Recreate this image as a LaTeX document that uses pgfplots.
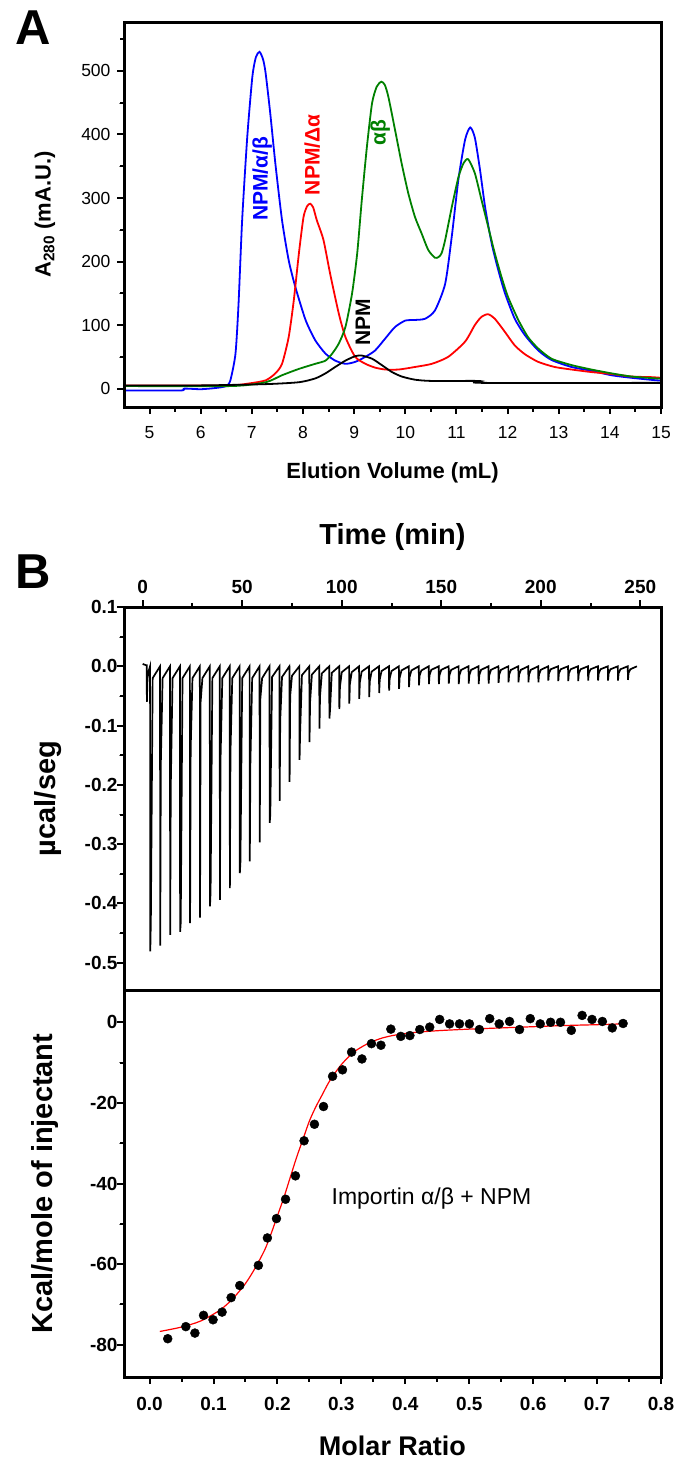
\documentclass[border=0pt]{standalone}
\usepackage{fontspec}
\setmainfont{Liberation Sans}
\usepackage{pgfplots}
\pgfplotsset{compat=1.18}
\definecolor{sgreen}{RGB}{0,128,0}

\pgfplotsset{
  panel/.style={
    scale only axis, width=537pt,
    tick align=outside, major tick length=7pt, minor tick length=4.5pt,
    /pgf/number format/assume math mode=true,
    minor x tick num=1, minor y tick num=1,
    after end axis/.code={\draw[line width=3pt, line join=miter] (rel axis cs:0,0) rectangle (rel axis cs:1,1);},
  },
}
\tikzset{tk/.style={line width=2pt, line cap=butt}}

\begin{document}
\begin{tikzpicture}

% ---------- A: gel filtration ----------
\begin{axis}[panel,
    at={(124pt,-407pt)}, anchor=south west, height=385pt,
    xmin=4.5, xmax=15, ymin=-29, ymax=577,
    xtick={5,6,...,15}, ytick={0,100,...,500},
    xtick pos=lower, ytick pos=left,
    tick label style={font=\fontsize{17.5}{20}\selectfont},
    xticklabel style={yshift=-9pt},
    yticklabel style={xshift=-3pt},
    xlabel={Elution Volume (mL)},
    ylabel={A\textsubscript{280} (mA.U.)},
    xlabel style={font=\fontsize{22}{24}\selectfont\bfseries, at={(axis description cs:0.5,-0.172)}, anchor=center},
    ylabel style={font=\fontsize{22}{24}\selectfont\bfseries, at={(axis description cs:-0.147,0.5)}, anchor=center},
    after end axis/.append code={
      \foreach \x in {5,6,...,15} \draw[tk] (axis cs:\x,-29) -- ++(0,-7pt);
      \foreach \x in {5.5,6.5,...,14.5} \draw[tk] (axis cs:\x,-29) -- ++(0,-4.5pt);
      \foreach \y in {0,100,...,500} \draw[tk] (axis cs:4.5,\y) -- ++(-7pt,0);
      \foreach \y in {50,150,...,550} \draw[tk] (axis cs:4.5,\y) -- ++(-4.5pt,0);
    },
  ]
  % NPM/alpha/beta
  \addplot[blue, line width=1.8pt, smooth, tension=0.4] coordinates {
    (4.5,-3) (5.6,-3) (5.68,0) (6.0,-1) (6.3,1) (6.5,4) (6.58,13) (6.68,55)
    (6.74,134) (6.81,265) (6.91,396) (7.01,491) (7.08,522) (7.15,530) (7.22,518)
    (7.27,496) (7.36,433) (7.46,354) (7.59,265) (7.72,202) (7.85,160) (8.05,108)
    (8.24,76) (8.44,55) (8.63,44) (8.83,39) (9.02,42) (9.22,50) (9.41,60)
    (9.61,79) (9.80,97) (10.0,107) (10.19,108) (10.39,110) (10.58,123) (10.78,165)
    (10.91,240) (11.04,330) (11.17,392) (11.27,411) (11.36,395) (11.46,345)
    (11.56,286) (11.69,228) (11.82,186) (11.95,150) (12.14,110) (12.34,84)
    (12.60,60) (12.86,45) (13.25,34) (13.64,28) (14.03,21) (14.42,17) (14.91,13) (15,13)
  };
  % NPM/Delta alpha
  \addplot[red, line width=1.8pt, smooth, tension=0.4] coordinates {
    (4.5,5) (6.5,5) (6.94,8) (7.27,13) (7.46,24) (7.59,39) (7.72,81) (7.82,139)
    (7.92,213) (8.01,270) (8.08,287) (8.14,291) (8.20,285) (8.27,265) (8.40,234)
    (8.53,181) (8.70,118) (8.83,81) (9.02,50) (9.22,39) (9.41,33) (9.61,30)
    (9.87,30) (10.19,34) (10.52,39) (10.84,50) (11.17,74) (11.36,100) (11.49,113)
    (11.62,117) (11.75,110) (11.95,89) (12.14,68) (12.34,54) (12.60,42) (12.92,34)
    (13.25,30) (13.64,26) (14.03,23) (14.42,19) (14.81,18) (15,17)
  };
  % alpha beta
  \addplot[sgreen, line width=1.8pt, smooth, tension=0.4] coordinates {
    (4.5,4) (6.61,4) (7.27,10) (7.59,21) (7.92,31) (8.24,39) (8.44,44) (8.57,55)
    (8.70,71) (8.83,97) (8.96,150) (9.06,213) (9.15,297) (9.25,381) (9.35,449)
    (9.44,475) (9.53,483) (9.60,478) (9.67,459) (9.80,407) (9.93,354) (10.06,307)
    (10.19,270) (10.32,244) (10.45,218) (10.58,206) (10.65,207) (10.71,213)
    (10.78,234) (10.91,286) (11.04,333) (11.14,355) (11.23,361) (11.36,339)
    (11.49,297) (11.62,255) (11.75,213) (11.88,176) (12.01,144) (12.21,108)
    (12.40,81) (12.60,63) (12.86,47) (13.25,37) (13.64,30) (14.03,24) (14.42,19)
    (14.91,16) (15,16)
  };
  % NPM
  \addplot[black, line width=1.8pt, smooth, tension=0.4] coordinates {
    (4.5,5) (6.0,5) (7.27,7) (7.92,10) (8.24,16) (8.44,24) (8.63,34) (8.83,44)
    (9.02,51) (9.15,52) (9.35,47) (9.54,37) (9.74,26) (9.93,19) (10.19,14)
    (10.52,12) (11.45,12) (11.5,9) (15,9)
  };
  \node[rotate=90, text=blue, font=\fontsize{21}{24}\selectfont\bfseries] at (axis cs:7.20,330) {NPM/α/β};
  \node[rotate=90, text=red, font=\fontsize{21}{24}\selectfont\bfseries] at (axis cs:8.18,368) {NPM/Δα};
  \node[rotate=90, text=sgreen, font=\fontsize{21}{24}\selectfont\bfseries] at (axis cs:9.51,403) {αβ};
  \node[rotate=90, text=black, font=\fontsize{21}{24}\selectfont\bfseries] at (axis cs:9.17,105) {NPM};
\end{axis}

% ---------- B: ITC raw heats ----------
\begin{axis}[panel,
    at={(124pt,-990pt)}, anchor=south west, height=383pt,
    xmin=-9.4, xmax=260.4, ymin=-0.546, ymax=0.1,
    xtick={0,50,...,250}, ytick={-0.5,-0.4,-0.3,-0.2,-0.1,0,0.1},
    xtick pos=upper, xticklabel pos=upper, ytick pos=left,
    tick label style={font=\fontsize{19}{22}\selectfont\bfseries},
    xticklabel style={yshift=3pt},
    yticklabel style={xshift=4pt, /pgf/number format/.cd, fixed, fixed zerofill, precision=1},
    xlabel={Time (min)}, ylabel={µcal/seg},
    xlabel style={font=\fontsize{29}{32}\selectfont\bfseries, at={(axis description cs:0.5,1.183)}, anchor=center},
    ylabel style={font=\fontsize{29}{32}\selectfont\bfseries, at={(axis description cs:-0.1415,0.5)}, anchor=center},
    after end axis/.append code={
      \foreach \x in {0,50,...,250} \draw[tk] (axis cs:\x,0.1) -- ++(0,7pt);
      \foreach \x in {25,75,...,225} \draw[tk] (axis cs:\x,0.1) -- ++(0,4.5pt);
      \foreach \y in {-0.5,-0.4,-0.3,-0.2,-0.1,0,0.1} \draw[tk] (axis cs:-9.4,\y) -- ++(-7pt,0);
      \foreach \y in {-0.45,-0.35,-0.25,-0.15,-0.05,0.05} \draw[tk] (axis cs:-9.4,\y) -- ++(-4.5pt,0);
    },
  ]
  \addplot[black, line width=1.7pt] coordinates {
    (0,0.004) (1.5,0.002) (2.0,0.002) (2.1,-0.06) (2.4,-0.02) (3.0,-0.008)
    (3.7,0) (3.8,-0.481) (4.1,-0.427) (5.0,-0.02)
    (8.7,0) (8.8,-0.471) (9.1,-0.164) (10.0,-0.02)
    (13.7,0) (13.8,-0.453) (14.1,-0.203) (15.0,-0.02)
    (18.7,0) (18.8,-0.448) (19.1,-0.433) (20.0,-0.02)
    (23.7,0) (23.8,-0.433) (24.1,-0.139) (25.0,-0.02)
    (28.7,0) (28.8,-0.424) (29.1,-0.06) (30.0,-0.02)
    (33.7,0) (33.8,-0.405) (34.1,-0.38) (35.0,-0.02)
    (38.7,0) (38.8,-0.394) (39.1,-0.158) (40.0,-0.02)
    (43.7,0) (43.8,-0.374) (44.1,-0.145) (45.0,-0.02)
    (48.7,0) (48.8,-0.349) (49.1,-0.33) (50.0,-0.02)
    (53.7,0) (53.8,-0.329) (54.1,-0.164) (55.0,-0.02)
    (58.7,0) (58.8,-0.297) (59.1,-0.055) (60.0,-0.02)
    (63.7,0) (63.8,-0.264) (64.1,-0.25) (65.0,-0.018)
    (68.7,0) (68.8,-0.227) (69.1,-0.09) (70.0,-0.018)
    (73.7,0) (73.8,-0.195) (74.1,-0.05) (75.0,-0.016)
    (78.7,0) (78.8,-0.158) (79.1,-0.11) (80.0,-0.015)
    (83.7,0) (83.8,-0.128) (84.1,-0.06) (85.0,-0.014)
    (88.7,0) (88.8,-0.105) (89.1,-0.05) (90.0,-0.012)
    (93.7,0) (93.8,-0.088) (94.1,-0.075) (95.0,-0.011)
    (98.7,0) (98.8,-0.072) (99.1,-0.035) (100.0,-0.01)
    (103.7,0) (103.8,-0.063) (104.1,-0.03) (105.0,-0.01)
    (108.7,0) (108.8,-0.055) (109.1,-0.027) (110.0,-0.009)
    (113.7,0) (113.8,-0.052) (114.1,-0.025) (115.0,-0.009)
    (118.7,0) (118.8,-0.045) (119.1,-0.022) (120.0,-0.008)
    (123.7,0) (123.8,-0.041) (124.1,-0.02) (125.0,-0.008)
    (128.7,0) (128.8,-0.038) (129.1,-0.019) (130.0,-0.007)
    (133.7,0) (133.8,-0.035) (134.1,-0.018) (135.0,-0.007)
    (138.7,0) (138.8,-0.032) (139.1,-0.016) (140.0,-0.007)
    (143.7,0) (143.8,-0.030) (144.1,-0.015) (145.0,-0.006)
    (148.7,0) (148.8,-0.030) (149.1,-0.015) (150.0,-0.006)
    (153.7,0) (153.8,-0.029) (154.1,-0.015) (155.0,-0.006)
    (158.7,0) (158.8,-0.030) (159.1,-0.015) (160.0,-0.006)
    (163.7,0) (163.8,-0.029) (164.1,-0.015) (165.0,-0.006)
    (168.7,0) (168.8,-0.030) (169.1,-0.015) (170.0,-0.006)
    (173.7,0) (173.8,-0.029) (174.1,-0.015) (175.0,-0.006)
    (178.7,0) (178.8,-0.028) (179.1,-0.014) (180.0,-0.006)
    (183.7,0) (183.8,-0.027) (184.1,-0.014) (185.0,-0.006)
    (188.7,0) (188.8,-0.027) (189.1,-0.014) (190.0,-0.006)
    (193.7,0) (193.8,-0.027) (194.1,-0.014) (195.0,-0.006)
    (198.7,0) (198.8,-0.027) (199.1,-0.014) (200.0,-0.006)
    (203.7,0) (203.8,-0.024) (204.1,-0.012) (205.0,-0.005)
    (208.7,0) (208.8,-0.025) (209.1,-0.012) (210.0,-0.005)
    (213.7,0) (213.8,-0.025) (214.1,-0.012) (215.0,-0.005)
    (218.7,0) (218.8,-0.025) (219.1,-0.012) (220.0,-0.005)
    (223.7,0) (223.8,-0.024) (224.1,-0.012) (225.0,-0.005)
    (228.7,0) (228.8,-0.024) (229.1,-0.012) (230.0,-0.005)
    (233.7,0) (233.8,-0.024) (234.1,-0.012) (235.0,-0.005)
    (238.7,0) (238.8,-0.024) (239.1,-0.012) (240.0,-0.005)
    (243.7,0) (243.8,-0.023) (244.1,-0.011) (245.0,-0.005)
    (248.3,0)
  };
\end{axis}

% ---------- B: binding isotherm ----------
\begin{axis}[panel,
    at={(124pt,-1377pt)}, anchor=south west, height=387pt,
    xmin=-0.04, xmax=0.8, ymin=-88, ymax=8,
    xtick={0,0.1,0.2,0.3,0.4,0.5,0.6,0.7,0.8}, ytick={-80,-60,-40,-20,0},
    xtick pos=lower, ytick pos=left,
    tick label style={font=\fontsize{19}{22}\selectfont\bfseries},
    xticklabel style={yshift=-10pt, /pgf/number format/.cd, fixed, fixed zerofill, precision=1},
    yticklabel style={xshift=4pt},
    xlabel={Molar Ratio}, ylabel={Kcal/mole of injectant},
    xlabel style={font=\fontsize{27}{30}\selectfont\bfseries, at={(axis description cs:0.5,-0.178)}, anchor=center},
    ylabel style={font=\fontsize{29}{32}\selectfont\bfseries, at={(axis description cs:-0.147,0.5)}, anchor=center},
    after end axis/.append code={
      \foreach \x in {0,0.1,0.2,0.3,0.4,0.5,0.6,0.7,0.8} \draw[tk] (axis cs:\x,-88) -- ++(0,-7pt);
      \foreach \x in {0.05,0.15,0.25,0.35,0.45,0.55,0.65,0.75} \draw[tk] (axis cs:\x,-88) -- ++(0,-4.5pt);
      \foreach \y in {-80,-60,-40,-20,0} \draw[tk] (axis cs:-0.04,\y) -- ++(-7pt,0);
      \foreach \y in {-70,-50,-30,-10} \draw[tk] (axis cs:-0.04,\y) -- ++(-4.5pt,0);
    },
  ]
  \addplot[red, line width=1.2pt, smooth] coordinates {
    (0.016,-76.7) (0.05,-75.6) (0.08,-74.1) (0.11,-71.4) (0.13,-68.6) (0.15,-64.8)
    (0.165,-61.0) (0.18,-56.5) (0.19,-52.5) (0.20,-48.0) (0.21,-43.5) (0.22,-38.5)
    (0.23,-33.5) (0.24,-29.0) (0.25,-24.5) (0.26,-21.0) (0.27,-18.0) (0.28,-15.0)
    (0.29,-12.6) (0.30,-10.5) (0.31,-8.8) (0.32,-7.3) (0.34,-5.4) (0.36,-4.1)
    (0.38,-3.3) (0.41,-2.6) (0.45,-2.1) (0.50,-1.7) (0.55,-1.4) (0.60,-1.1)
    (0.65,-0.8) (0.70,-0.6) (0.74,-0.4)
  };
  \addplot[only marks, mark=*, mark size=4.5pt, black] coordinates {
    (0.0284,-78.5) (0.0567,-75.5) (0.0709,-77.1) (0.0844,-72.7) (0.0993,-73.8)
    (0.1134,-71.9) (0.1276,-68.3) (0.1411,-65.3) (0.1702,-60.3) (0.1843,-53.5)
    (0.1985,-48.7) (0.2127,-43.9) (0.2282,-38.1) (0.2417,-29.4) (0.2579,-25.3)
    (0.2721,-20.9) (0.2863,-13.4) (0.3018,-11.8) (0.3160,-7.4) (0.3322,-9.1)
    (0.3471,-5.3) (0.3619,-5.7) (0.3774,-1.7) (0.3930,-3.5) (0.4072,-3.3)
    (0.4227,-1.8) (0.4382,-1.2) (0.4538,0.7) (0.4693,-0.4) (0.4848,-0.4)
    (0.5003,-0.4) (0.5159,-1.8) (0.5321,0.9) (0.5469,-0.4) (0.5631,0.2)
    (0.5787,-1.8) (0.5955,0.9) (0.6111,-0.4) (0.6273,0) (0.6428,0)
    (0.6597,-2.0) (0.6766,1.7) (0.6921,0.7) (0.7083,0.2) (0.7238,-1.4) (0.7407,-0.3)
  };
  \node[font=\fontsize{23}{26}\selectfont] at (axis cs:0.441,-43.7) {Importin α/β + NPM};
\end{axis}

\node[font=\fontsize{49}{49}\selectfont\bfseries, inner sep=0pt] at (33.5pt,-27.5pt) {A};
\node[font=\fontsize{49}{49}\selectfont\bfseries, inner sep=0pt] at (33.5pt,-571.5pt) {B};

\pgfresetboundingbox
\useasboundingbox (0,0) rectangle (676pt,-1462pt);
\end{tikzpicture}
\end{document}
